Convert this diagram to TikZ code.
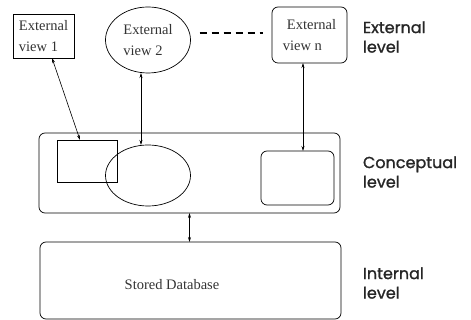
\documentclass[tikz,border=0pt]{standalone}
\usepackage{fontspec}
\setmainfont{Liberation Serif}
\newfontfamily\levelfont[FakeBold=1.2]{Poppins}
\usetikzlibrary{arrows.meta,shapes.geometric}
\begin{document}
\begin{tikzpicture}[x=1pt,y=-1pt,
  every node/.style={inner sep=0pt, outer sep=0pt, font=\fontsize{14.5}{21}\selectfont},
  box/.style={draw, line width=0.7pt},
  rbox/.style={draw, line width=0.7pt, rounded corners=6pt},
  ell/.style={draw, ellipse, line width=0.7pt},
  lvl/.style={anchor=west, align=left, text=black!85, font=\levelfont\fontsize{16}{19.5}\selectfont},
  link/.style={line width=0.6pt, {Stealth[length=5pt,width=3pt]}-{Stealth[length=5pt,width=3pt]}}
]
\useasboundingbox (0,0) rectangle (471,320);
% external level
\node[box, minimum width=61pt, minimum height=44pt, align=left, text=black!80] (v1) at (43.5,36) {External\\view 1};
\node[ell, minimum width=85pt, minimum height=66pt, align=left, text=black!80] (v2) at (148,40) {External\\view 2};
\node[rbox, minimum width=75pt, minimum height=56pt, align=left, text=black!80] (vn) at (309.5,35) {\hspace{4pt}External\\view n};
\node[lvl] (lext) at (363,37) {External\\level};
% conceptual level
\node[rbox, minimum width=301pt, minimum height=80pt] (con) at (189.5,173) {};
\node[box, minimum width=60pt, minimum height=42pt] (c1) at (87,161) {};
\node[ell, minimum width=85pt, minimum height=61pt] (c2) at (148,175.5) {};
\node[rbox, minimum width=73pt, minimum height=54pt] (c3) at (297.5,178) {};
\node[lvl] (lcon) at (363,172) {Conceptual\\level};
% internal level
\node[rbox, minimum width=301pt, minimum height=77pt] (db) at (190.5,280.5) {};
\node[text=black!80] (dbt) at (172,285) {Stored Database};
\node[lvl] (lint) at (363,283) {Internal\\level};
% connectors
\draw[link] ([xshift=8.5pt]v1.south) -- ([xshift=-7pt]c1.north);
\draw[link] ([xshift=-7pt]v2.south) -- ([xshift=-7pt]c2.north);
\draw[link] ([xshift=-6.5pt]vn.south) -- ([xshift=-6.5pt]vn.south |- c3.north);
\draw[link] (con.south) -- (con.south |- db.north);
\draw[line width=1.8pt, dash pattern=on 7pt off 5pt] ([xshift=9pt,yshift=7pt]v2.east) -- ([xshift=-9pt,yshift=2pt]vn.west);
\end{tikzpicture}
\end{document}
